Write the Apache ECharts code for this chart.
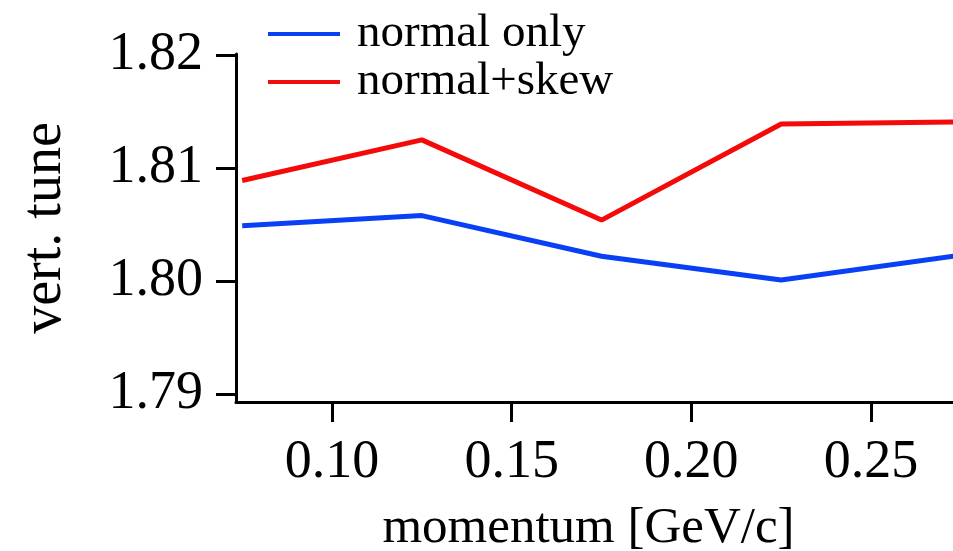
<!DOCTYPE html>
<html>
<head>
<meta charset="utf-8">
<script src="https://cdn.jsdelivr.net/npm/echarts@6/dist/echarts.min.js"></script>
<style>html,body{margin:0;padding:0;background:#fff}#c{width:953px;height:551px}</style>
</head>
<body>
<div id="c"></div>
<script>
const momentum = [0.075, 0.125, 0.175, 0.225, 0.275];
const normalOnly = [1.8049, 1.8058, 1.8022, 1.8001, 1.8023];
const normalSkew = [1.8089, 1.8125, 1.8054, 1.8139, 1.8141];
const xTicks = [0.10, 0.15, 0.20, 0.25];
const yTicks = [1.79, 1.80, 1.81, 1.82];

const font = 'Liberation Serif';
const chart = echarts.init(document.getElementById('c'), null, {renderer: 'canvas'});
chart.setOption({
  animation: false,
  backgroundColor: '#fff',
  grid: {left: 236, top: 54, right: 0, bottom: 149, containLabel: false, outerBoundsMode: 'none'},
  legend: {
    orient: 'vertical', left: 263, top: 5, itemWidth: 72, itemHeight: 4, itemGap: 0,
    icon: 'rect',
    textStyle: {fontFamily: font, fontSize: 47, color: '#000', lineHeight: 48, padding: [0, 0, 0, 12]},
    data: ['normal only', 'normal+skew']
  },
  xAxis: {
    type: 'value', min: 0.07328, max: 0.27282,
    name: 'momentum [GeV/c]', nameLocation: 'middle', nameGap: 101,
    nameTextStyle: {fontFamily: font, fontSize: 51, color: '#000', padding: [0, 12, 0, 0]},
    axisLine: {show: true, lineStyle: {color: '#000', width: 3}},
    axisTick: {show: true, inside: false, length: 20, lineStyle: {color: '#000', width: 3}, customValues: xTicks},
    axisLabel: {fontFamily: font, fontSize: 54, color: '#000', margin: 34, customValues: xTicks,
      formatter: v => v.toFixed(2)},
    splitLine: {show: false}
  },
  yAxis: {
    type: 'value', min: 1.7893, max: 1.8201,
    name: 'vert. tune', nameLocation: 'middle', nameGap: 163, nameRotate: 90,
    nameTextStyle: {fontFamily: font, fontSize: 56, color: '#000'},
    axisLine: {show: true, lineStyle: {color: '#000', width: 3}},
    axisTick: {show: true, inside: false, length: 20, lineStyle: {color: '#000', width: 3}, customValues: yTicks},
    axisLabel: {fontFamily: font, fontSize: 54, color: '#000', margin: 33, customValues: yTicks,
      formatter: v => v.toFixed(2)},
    splitLine: {show: false}
  },
  series: [
    {name: 'normal only', type: 'line', data: momentum.map((x, i) => [x, normalOnly[i]]),
      symbol: 'none', clip: true, color: '#0a40f5', lineStyle: {width: 5, color: '#0a40f5'}},
    {name: 'normal+skew', type: 'line', data: momentum.map((x, i) => [x, normalSkew[i]]),
      symbol: 'none', clip: true, color: '#f50a0a', lineStyle: {width: 5, color: '#f50a0a'}}
  ]
});
</script>
</body>
</html>
